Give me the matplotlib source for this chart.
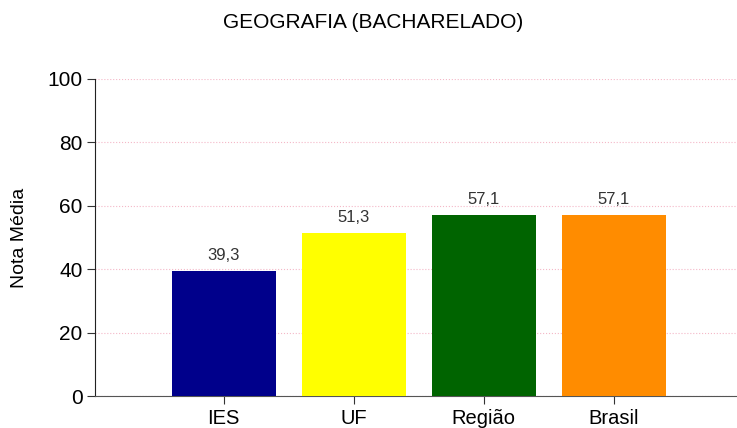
import matplotlib
matplotlib.use("Agg")
import matplotlib.pyplot as plt

categories = ["IES", "UF", "Região", "Brasil"]
values = [39.3, 51.3, 57.1, 57.1]
labels = ["39,3", "51,3", "57,1", "57,1"]
colors = ["#00008B", "#FFFF00", "#006400", "#FF8C00"]
yticks = [0, 20, 40, 60, 80, 100]

plt.rcParams['font.family'] = ['Liberation Sans', 'DejaVu Sans']

fig = plt.figure(figsize=(7.37, 4.28), dpi=100)
ax = fig.add_axes([95/737, 1 - 396/428, (736-95)/737, (396-79)/428])

x = list(range(len(categories)))
ax.bar(x, values, width=0.8, color=colors, zorder=3)
for xi, v, lab in zip(x, values, labels):
    ax.text(xi, v + 2.5, lab, ha='center', va='bottom', fontsize=12, color='#333333', zorder=4)

ax.set_xlim(-0.99, 3.94)
ax.set_ylim(0, 100)
ax.set_xticks(x)
ax.set_xticklabels(categories, fontsize=14.5)
ax.set_yticks(yticks)
ax.set_yticklabels([str(t) for t in yticks], fontsize=15)
ax.yaxis.grid(True, color='#F4B8C8', linestyle=':', linewidth=0.8, zorder=0)
ax.set_axisbelow(True)
for s in ['top', 'right']:
    ax.spines[s].set_visible(False)
ax.spines['left'].set_color('#222222')
ax.spines['bottom'].set_color('#555555')
ax.tick_params(axis='both', length=6, color='#333333', width=0.8)
ax.tick_params(axis='x', pad=3)
ax.tick_params(axis='y', pad=3)
ax.set_ylabel("Nota Média", fontsize=14, labelpad=14)
fig.text(373/737, 1 - 22/428, "GEOGRAFIA (BACHARELADO)", ha='center', va='center', fontsize=15)

fig.savefig("out.png", dpi=100)
